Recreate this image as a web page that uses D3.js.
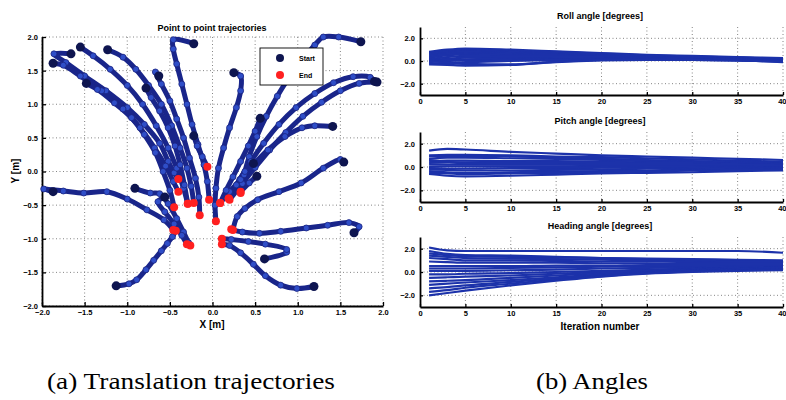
<!DOCTYPE html>
<html>
<head>
<meta charset="utf-8">
<script src="https://cdn.jsdelivr.net/npm/d3@7"></script>
<style>
body { margin: 0; background: #fff; }
</style>
</head>
<body>
<main></main>
<script>
// trajectories in metres, first point = start, last point = end
const trajectories = [
    [[-1.66,1.75],[-1.86,1.75],[-1.72,1.62],[-1.5,1.42],[-1.25,1.2],[-1.0,0.95],[-0.8,0.7],[-0.62,0.42],[-0.52,0.15],[-0.45,-0.02],[-0.40,-0.11]],
    [[-1.87,1.61],[-1.75,1.58],[-1.55,1.42],[-1.3,1.2],[-1.05,0.93],[-0.85,0.65],[-0.68,0.35],[-0.55,0.08],[-0.46,-0.15],[-0.40,-0.30]],
    [[-1.55,1.85],[-1.4,1.72],[-1.2,1.52],[-1.0,1.28],[-0.82,1.0],[-0.66,0.68],[-0.52,0.35],[-0.42,0.05],[-0.34,-0.25],[-0.29,-0.48]],
    [[-1.23,1.81],[-1.05,1.7],[-0.9,1.52],[-0.75,1.28],[-0.6,1.0],[-0.48,0.68],[-0.38,0.35],[-0.3,0.05],[-0.25,-0.22],[-0.22,-0.47]],
    [[-1.48,1.31],[-1.35,1.22],[-1.15,1.02],[-0.95,0.8],[-0.8,0.55],[-0.67,0.28],[-0.58,0.0],[-0.5,-0.28],[-0.45,-0.53]],
    [[-0.63,1.42],[-0.67,1.48],[-0.6,1.3],[-0.5,1.05],[-0.42,0.78],[-0.34,0.5],[-0.27,0.2],[-0.2,-0.1],[-0.16,-0.38],[-0.15,-0.65]],
    [[-0.78,1.24],[-0.72,1.1],[-0.62,0.9],[-0.52,0.65],[-0.44,0.38],[-0.38,0.1],[-0.33,-0.2],[-0.29,-0.48]],
    [[-0.22,1.90],[-0.46,1.96],[-0.46,1.82],[-0.42,1.6],[-0.36,1.3],[-0.3,1.0],[-0.24,0.7],[-0.17,0.4],[-0.1,0.1],[-0.06,-0.15],[-0.04,-0.42]],
    [[-0.22,0.53],[-0.18,0.38],[-0.12,0.22],[-0.06,0.07]],
    [[1.74,1.93],[1.48,2.0],[1.30,2.0],[1.2,1.88],[1.05,1.65],[0.9,1.4],[0.76,1.12],[0.63,0.82],[0.52,0.52],[0.43,0.22],[0.37,-0.05],[0.33,-0.32]],
    [[1.90,1.34],[1.85,1.4],[1.65,1.41],[1.42,1.32],[1.2,1.16],[0.98,0.95],[0.78,0.7],[0.6,0.42],[0.45,0.15],[0.32,-0.12],[0.19,-0.40]],
    [[1.93,1.33],[1.72,1.31],[1.5,1.2],[1.28,1.03],[1.06,0.82],[0.86,0.58],[0.67,0.32],[0.5,0.06],[0.35,-0.18],[0.2,-0.42]],
    [[1.41,0.67],[1.2,0.68],[1.05,0.65],[0.85,0.52],[0.65,0.32],[0.48,0.1],[0.33,-0.12],[0.2,-0.3],[0.09,-0.47]],
    [[1.54,0.14],[1.5,0.18],[1.3,0.05],[1.04,-0.17],[0.78,-0.3],[0.53,-0.42],[0.38,-0.55],[0.29,-0.67],[0.24,-0.87]],
    [[0.25,1.47],[0.33,1.42],[0.33,1.2],[0.28,0.95],[0.2,0.65],[0.13,0.35],[0.07,0.05],[0.04,-0.25],[0.03,-0.5],[0.04,-0.74]],
    [[0.56,0.79],[0.5,0.6],[0.42,0.38],[0.33,0.15],[0.24,-0.08],[0.16,-0.28],[0.09,-0.47]],
    [[0.52,-0.07],[0.43,-0.17],[0.33,-0.3]],
    [[0.48,0.12],[0.38,0.0],[0.28,-0.2],[0.19,-0.40]],
    [[1.66,-0.91],[1.72,-0.82],[1.6,-0.76],[1.35,-0.8],[1.1,-0.84],[0.8,-0.89],[0.55,-0.92],[0.35,-0.9],[0.22,-0.86]],
    [[0.61,-1.30],[0.87,-1.2],[0.87,-1.16],[0.62,-1.08],[0.42,-1.04],[0.22,-1.01],[0.11,-1.0]],
    [[1.19,-1.71],[0.99,-1.74],[0.8,-1.69],[0.62,-1.55],[0.48,-1.38],[0.33,-1.21],[0.2,-1.1],[0.11,-1.08]],
    [[-1.87,-0.30],[-1.98,-0.26],[-1.75,-0.29],[-1.51,-0.32],[-1.24,-0.3],[-1.0,-0.41],[-0.77,-0.57],[-0.57,-0.72],[-0.46,-0.87]],
    [[-0.91,-0.25],[-0.73,-0.32],[-0.62,-0.33],[-0.52,-0.48],[-0.42,-0.7],[-0.34,-0.9],[-0.28,-1.06],[-0.26,-1.10]],
    [[-0.56,-0.38],[-0.64,-0.45],[-0.56,-0.6],[-0.45,-0.78],[-0.36,-0.95],[-0.3,-1.08]],
    [[-1.13,-1.70],[-0.98,-1.67],[-0.89,-1.61],[-0.78,-1.46],[-0.69,-1.32],[-0.6,-1.18],[-0.53,-1.07],[-0.47,-0.97],[-0.43,-0.88]]
]

const posTicks = [-2, -1.5, -1, -0.5, 0, 0.5, 1, 1.5, 2]

// angle series, values at these iterations
const iterations = [1, 3, 5, 10, 15, 20, 25, 30, 35, 40]
const iterTicks = [0, 5, 10, 15, 20, 25, 30, 35, 40]
const angleTicks = [-2, 0, 2]

const rollSeries = [
    [0.8,1.0,1.1,1.0,0.85,0.7,0.55,0.45,0.35,0.25],
    [0.7,0.9,1.0,0.9,0.8,0.65,0.5,0.4,0.3,0.2],
    [0.6,0.8,0.9,0.8,0.7,0.6,0.45,0.35,0.3,0.2],
    [0.5,0.7,0.8,0.7,0.6,0.5,0.4,0.3,0.25,0.15],
    [0.4,0.6,0.7,0.6,0.55,0.45,0.35,0.3,0.2,0.15],
    [0.3,0.5,0.6,0.5,0.45,0.4,0.3,0.25,0.2,0.1],
    [0.2,0.35,0.45,0.4,0.4,0.35,0.3,0.2,0.15,0.1],
    [0.1,0.2,0.3,0.3,0.3,0.3,0.25,0.2,0.15,0.05],
    [0.0,0.1,0.15,0.2,0.25,0.25,0.2,0.15,0.1,0.05],
    [-0.1,0.0,0.05,0.1,0.15,0.2,0.2,0.15,0.1,0.0],
    [-0.2,-0.2,-0.1,0.0,0.1,0.15,0.15,0.1,0.05,0.0],
    [-0.3,-0.35,-0.4,-0.35,-0.1,0.05,0.1,0.1,0.05,-0.05],
    [0.0,-0.15,-0.25,-0.3,-0.05,0.1,0.15,0.1,0.05,-0.1]
]

const pitchSeries = [
    [1.4,1.55,1.5,1.3,1.15,1.0,0.9,0.8,0.7,0.6],
    [1.0,1.05,1.05,1.0,0.9,0.85,0.75,0.65,0.55,0.45],
    [0.9,0.95,0.95,0.9,0.8,0.7,0.6,0.5,0.45,0.4],
    [0.7,0.8,0.8,0.75,0.7,0.6,0.5,0.45,0.4,0.3],
    [0.5,0.55,0.55,0.5,0.5,0.45,0.4,0.35,0.3,0.25],
    [0.35,0.4,0.4,0.4,0.35,0.35,0.3,0.3,0.25,0.2],
    [0.2,0.2,0.2,0.2,0.2,0.2,0.2,0.2,0.15,0.15],
    [0.0,0.05,0.05,0.05,0.05,0.1,0.1,0.1,0.1,0.1],
    [-0.1,-0.15,-0.15,-0.1,-0.1,-0.05,0.0,0.0,0.05,0.05],
    [-0.2,-0.25,-0.3,-0.3,-0.25,-0.2,-0.15,-0.1,-0.05,0.0],
    [-0.35,-0.45,-0.5,-0.45,-0.4,-0.35,-0.3,-0.2,-0.15,-0.1],
    [-0.6,-0.75,-0.8,-0.75,-0.65,-0.55,-0.5,-0.45,-0.35,-0.3],
    [0.6,0.45,0.3,0.25,0.25,0.2,0.2,0.2,0.2,0.15],
    [-0.5,-0.55,-0.6,-0.55,-0.5,-0.45,-0.4,-0.3,-0.25,-0.2]
]

const headingSeries = [
    [2.1,1.85,1.8,1.8,1.8,1.8,1.8,1.8,1.8,1.65],
    [1.8,1.55,1.45,1.4,1.3,1.2,1.1,1.0,0.95,0.9],
    [1.6,1.45,1.35,1.3,1.25,1.2,1.15,1.1,1.05,1.0],
    [1.4,1.3,1.2,1.15,1.1,1.05,1.0,0.95,0.9,0.85],
    [1.2,1.1,1.0,1.0,0.95,0.9,0.9,0.85,0.8,0.8],
    [0.9,0.85,0.8,0.8,0.8,0.75,0.75,0.7,0.7,0.7],
    [0.5,0.5,0.5,0.5,0.55,0.55,0.6,0.6,0.6,0.6],
    [0.3,0.3,0.3,0.35,0.4,0.45,0.5,0.5,0.5,0.5],
    [0.1,0.1,0.1,0.15,0.2,0.3,0.35,0.4,0.45,0.45],
    [-0.2,-0.2,-0.15,-0.1,0.0,0.1,0.2,0.3,0.35,0.4],
    [-0.5,-0.45,-0.4,-0.3,-0.15,0.0,0.15,0.25,0.3,0.35],
    [-0.8,-0.75,-0.7,-0.5,-0.3,-0.1,0.1,0.2,0.3,0.3],
    [-1.1,-1.0,-0.9,-0.7,-0.45,-0.2,0.0,0.15,0.25,0.3],
    [-1.4,-1.3,-1.15,-0.85,-0.55,-0.3,-0.05,0.1,0.2,0.25],
    [-1.7,-1.55,-1.35,-1.0,-0.65,-0.35,-0.1,0.05,0.15,0.2],
    [-2.0,-1.8,-1.6,-1.15,-0.75,-0.4,-0.15,0.0,0.1,0.15]
]

const sans = "'Liberation Sans', Arial, sans-serif"
const serif = "'Liberation Serif', 'DejaVu Serif', serif"

const svg = d3.select("main")
    .append("svg")
    .attr("width", 786)
    .attr("height", 400)
    .style("font-family", sans)

// ---------- left: trajectories ----------
const xScale = d3.scaleLinear().domain([-2, 2]).range([42, 383])
const yScale = d3.scaleLinear().domain([-2, 2]).range([306, 37])

const grid = svg.append("g")
grid.selectAll(".gx").data(posTicks).enter().append("line")
    .attr("x1", d => xScale(d)).attr("x2", d => xScale(d))
    .attr("y1", 37).attr("y2", 306)
grid.selectAll(".gy").data(posTicks).enter().append("line")
    .attr("y1", d => yScale(d)).attr("y2", d => yScale(d))
    .attr("x1", 42).attr("x2", 383)
grid.selectAll("line")
    .attr("stroke", "#777")
    .attr("stroke-width", 0.9)
    .attr("stroke-dasharray", "1,2.5")

const xAxis = svg.append("g")
    .attr("transform", "translate(0,306)")
    .call(d3.axisBottom(xScale).tickValues(posTicks).tickSizeInner(-4).tickSizeOuter(0).tickPadding(4))
const yAxis = svg.append("g")
    .attr("transform", "translate(42,0)")
    .call(d3.axisLeft(yScale).tickValues(posTicks).tickSizeInner(-4).tickSizeOuter(0).tickPadding(4))

for (const ax of [xAxis, yAxis]) {
    ax.select(".domain").attr("stroke", "#000").attr("stroke-width", 1.8)
    ax.selectAll("line").attr("stroke", "#000").attr("stroke-width", 1.3)
    ax.selectAll("text").style("font-family", sans).style("font-size", "7.5px").style("font-weight", "900").attr("fill", "#000")
}

const line = d3.line()
    .x(d => xScale(d[0]))
    .y(d => yScale(d[1]))
    .curve(d3.curveCatmullRom)

const tracks = svg.append("g")
tracks.selectAll("path").data(trajectories).enter().append("path")
    .attr("d", line)
    .attr("fill", "none")
    .attr("stroke", "#19258a")
    .attr("stroke-width", 5)
    .attr("stroke-linecap", "round")

trajectories.forEach(tr => {
    tracks.selectAll(null).data(tr.slice(1, -1)).enter().append("circle")
        .attr("cx", d => xScale(d[0]))
        .attr("cy", d => yScale(d[1]))
        .attr("r", 3)
        .attr("fill", "#2f4ec8")
        .attr("stroke", "#1a2380")
        .attr("stroke-width", 0.8)
})

tracks.selectAll(".start").data(trajectories).enter().append("circle")
    .attr("cx", d => xScale(d[0][0]))
    .attr("cy", d => yScale(d[0][1]))
    .attr("r", 4.5)
    .attr("fill", "#0e1550")

tracks.selectAll(".end").data(trajectories).enter().append("circle")
    .attr("cx", d => xScale(d[d.length - 1][0]))
    .attr("cy", d => yScale(d[d.length - 1][1]))
    .attr("r", 4)
    .attr("fill", "#ff2020")

// legend
const legend = svg.append("g")
legend.append("rect")
    .attr("x", 260).attr("y", 48).attr("width", 63).attr("height", 37)
    .attr("fill", "#fff").attr("stroke", "#000").attr("stroke-width", 0.9)
legend.append("circle").attr("cx", 280).attr("cy", 58).attr("r", 4).attr("fill", "#0e1550")
legend.append("circle").attr("cx", 280).attr("cy", 75).attr("r", 4).attr("fill", "#ff2020")
legend.append("text").attr("x", 299).attr("y", 61).text("Start")
legend.append("text").attr("x", 299).attr("y", 78).text("End")
legend.selectAll("text").style("font-size", "7px").style("font-weight", "900")

svg.append("text")
    .attr("x", 212).attr("y", 31)
    .attr("text-anchor", "middle")
    .style("font-size", "9px").style("font-weight", "900")
    .text("Point to point trajectories")
svg.append("text")
    .attr("x", 212).attr("y", 328)
    .attr("text-anchor", "middle")
    .style("font-size", "10px").style("font-weight", "900")
    .text("X [m]")
svg.append("text")
    .attr("transform", "translate(19,171) rotate(-90)")
    .attr("text-anchor", "middle")
    .style("font-size", "10px").style("font-weight", "900")
    .text("Y [m]")

// ---------- right: angle panels ----------
const iterScale = d3.scaleLinear().domain([0, 40]).range([420, 783])

const panels = [
    { title: "Roll angle [degrees]", series: rollSeries, top: 27, bottom: 95 },
    { title: "Pitch angle [degrees]", series: pitchSeries, top: 132, bottom: 202 },
    { title: "Heading angle [degrees]", series: headingSeries, top: 237, bottom: 307 }
]

panels.forEach(p => {
    const aScale = d3.scaleLinear().domain([-3, 3]).range([p.bottom, p.top])
    const g = svg.append("g")

    const pg = g.append("g")
    pg.selectAll(".gx").data(iterTicks.slice(1)).enter().append("line")
        .attr("x1", d => iterScale(d)).attr("x2", d => iterScale(d))
        .attr("y1", p.top).attr("y2", p.bottom)
    pg.selectAll(".gy").data(angleTicks).enter().append("line")
        .attr("y1", d => aScale(d)).attr("y2", d => aScale(d))
        .attr("x1", 420).attr("x2", 783)
    pg.selectAll("line")
        .attr("stroke", "#777")
        .attr("stroke-width", 0.9)
        .attr("stroke-dasharray", "1,2.5")

    const aLine = d3.line()
        .x((d, i) => iterScale(iterations[i]))
        .y(d => aScale(d))
        .curve(d3.curveMonotoneX)

    g.selectAll(".series").data(p.series).enter().append("path")
        .attr("d", aLine)
        .attr("fill", "none")
        .attr("stroke", "#1c32aa")
        .attr("stroke-width", 2.2)

    const bx = g.append("g")
        .attr("transform", `translate(0,${p.bottom})`)
        .call(d3.axisBottom(iterScale).tickValues(iterTicks).tickSizeInner(-3).tickSizeOuter(0).tickPadding(4))
    const ly = g.append("g")
        .attr("transform", "translate(420,0)")
        .call(d3.axisLeft(aScale).tickValues(angleTicks).tickSizeInner(-3).tickSizeOuter(0).tickPadding(5))
    for (const ax of [bx, ly]) {
        ax.select(".domain").attr("stroke", "#000").attr("stroke-width", 1.8)
        ax.selectAll("line").attr("stroke", "#000").attr("stroke-width", 1.3)
        ax.selectAll("text").style("font-family", sans).style("font-size", "7.5px").style("font-weight", "900").attr("fill", "#000")
    }
    // last label sits at the page edge
    bx.selectAll(".tick text").filter(d => d === 40).attr("text-anchor", "end").attr("dx", "3")

    g.append("text")
        .attr("x", 600).attr("y", p.top - 8)
        .attr("text-anchor", "middle")
        .style("font-size", "9px").style("font-weight", "900")
        .text(p.title)
})

svg.append("text")
    .attr("x", 600).attr("y", 330)
    .attr("text-anchor", "middle")
    .style("font-size", "10px").style("font-weight", "900")
    .text("Iteration number")

// captions
svg.append("text")
    .attr("x", 47).attr("y", 389)
    .attr("textLength", 288)
    .attr("lengthAdjust", "spacingAndGlyphs")
    .style("font-family", serif)
    .style("font-size", "23px")
    .text("(a) Translation trajectories")
svg.append("text")
    .attr("x", 536).attr("y", 389)
    .attr("textLength", 112)
    .attr("lengthAdjust", "spacingAndGlyphs")
    .style("font-family", serif)
    .style("font-size", "23px")
    .text("(b) Angles")
</script>
</body>
</html>
